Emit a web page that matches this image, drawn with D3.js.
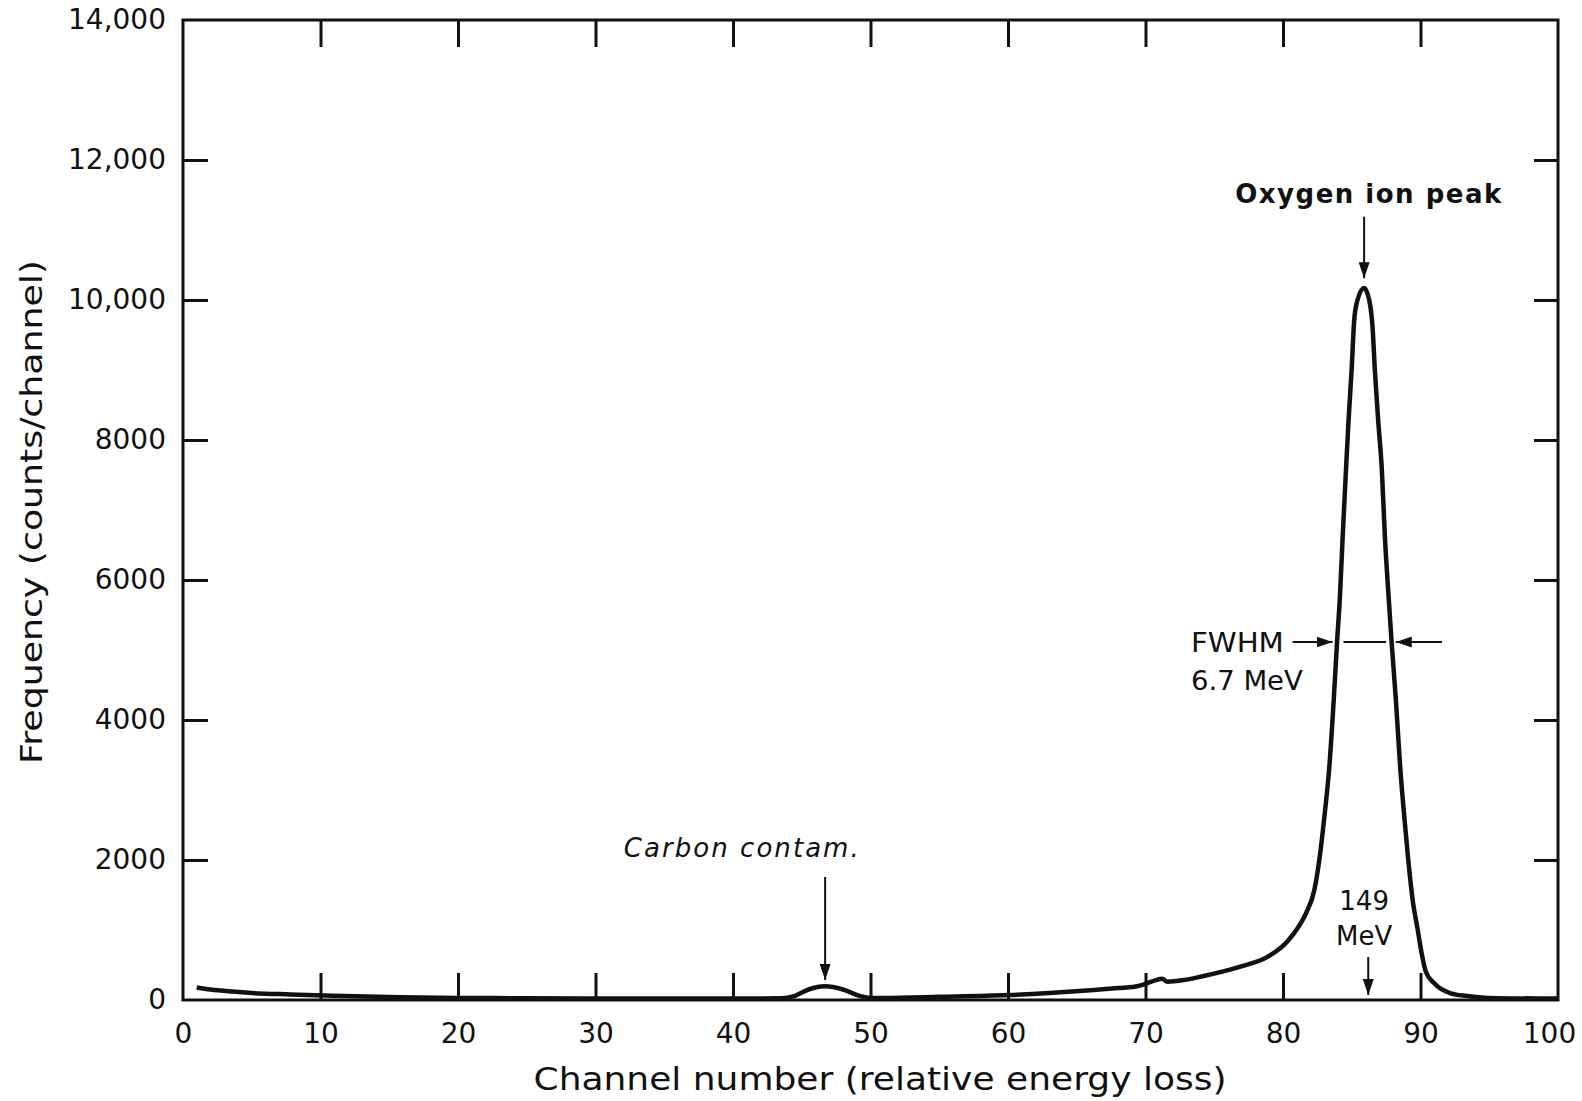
<!DOCTYPE html>
<html>
<head>
<meta charset="utf-8">
<script src="https://cdn.jsdelivr.net/npm/d3@7"></script>
<style>
  body { margin: 0; background: #fff; }
  svg { display: block; font-family: 'DejaVu Sans', sans-serif; }
</style>
</head>
<body>
<svg id="chart" width="1582" height="1101"></svg>
<script>
// spectrum
const channels = [1, 2, 3.6, 5, 7.8, 10.9, 15.8, 20, 25, 30, 35, 40, 43.5, 44.5, 45.5, 46.7, 48, 49.2, 50, 51,
  55, 60, 63, 66, 68, 69.2, 70.1, 70.7, 71.2, 71.6, 72.8, 74, 76.9, 78.9, 80.3, 81.06, 81.67, 82.28, 82.64,
  83.01, 83.37, 83.69, 83.93, 84.14, 84.34, 84.58, 84.77, 84.99, 85.18, 85.42, 85.9, 86.27, 86.51, 86.68,
  86.92, 87.19, 87.41, 87.68, 87.9, 88.21, 88.52, 88.82, 89.11, 89.43, 89.8, 90.1, 90.39, 91.0, 92.2,
  93.4, 95, 100];
const counts = [180, 150, 120, 100, 80, 62, 40, 30, 25, 20, 20, 20, 25, 60, 150, 195, 150, 60, 30, 30,
  45, 70, 100, 140, 170, 190, 238, 280, 305, 262, 286, 333, 476, 619, 833, 1024, 1238, 1571, 2000,
  2619, 3333, 4286, 5110, 5762, 6619, 7571, 8286, 9000, 9714, 10000, 10170, 10000, 9619, 9000,
  8286, 7571, 6619, 5762, 5110, 4286, 3333, 2619, 2000, 1429, 1000, 650, 404, 238, 95,
  57, 30, 20];

const xTickValues = [0, 10, 20, 30, 40, 50, 60, 70, 80, 90, 100];
const yTickValues = [0, 2000, 4000, 6000, 8000, 10000, 12000, 14000];
const yTickLabels = ['0', '2000', '4000', '6000', '8000', '10,000', '12,000', '14,000'];

const svg = d3.select('#chart');
const x = d3.scaleLinear([0, 100], [183, 1558]);
const y = d3.scaleLinear([0, 14000], [1000, 20]);

const defs = svg.append('defs');
defs.append('marker')
  .attr('id', 'head')
  .attr('viewBox', '0 -6 16 12')
  .attr('refX', 16)
  .attr('refY', 0)
  .attr('markerUnits', 'userSpaceOnUse')
  .attr('markerWidth', 16)
  .attr('markerHeight', 12)
  .attr('orient', 'auto')
  .append('path')
  .attr('d', 'M0,-5.5 L16,0 L0,5.5 Z')
  .attr('fill', '#111');

// bottom axis: labels everywhere, ticks only inside
const xAxis = svg.append('g')
  .attr('transform', `translate(0,${y(0)})`)
  .call(d3.axisBottom(x).tickValues(xTickValues).tickSizeInner(-27).tickSizeOuter(0).tickPadding(23));
xAxis.selectAll('.tick line').filter(d => d === 0 || d === 100).remove();
xAxis.selectAll('.tick text').filter(d => d === 100).attr('dx', -9);

svg.append('g')
  .attr('transform', `translate(0,${y(14000)})`)
  .call(d3.axisTop(x).tickValues(xTickValues.slice(1, -1)).tickSizeInner(-27).tickSizeOuter(0).tickFormat(''));

const yAxis = svg.append('g')
  .attr('transform', `translate(${x(0)},0)`)
  .call(d3.axisLeft(y).tickValues(yTickValues).tickSizeInner(-25).tickSizeOuter(0).tickPadding(17)
    .tickFormat((d, i) => yTickLabels[i]));
yAxis.selectAll('.tick line').filter(d => d === 0 || d === 14000).remove();

svg.append('g')
  .attr('transform', `translate(${x(100)},0)`)
  .call(d3.axisRight(y).tickValues(yTickValues.slice(1, -1)).tickSizeInner(-24).tickSizeOuter(0).tickFormat(''));

[xAxis, yAxis].forEach(g => g
  .attr('font-family', "'DejaVu Sans', sans-serif")
  .attr('font-size', 28)
  .selectAll('text').attr('fill', '#111'));

svg.selectAll('.domain').remove();
svg.selectAll('.tick line').attr('stroke', '#111').attr('stroke-width', 3);

svg.append('rect')
  .attr('x', x(0)).attr('y', y(14000))
  .attr('width', x(100) - x(0)).attr('height', y(0) - y(14000))
  .attr('fill', 'none').attr('stroke', '#111').attr('stroke-width', 3);

// spectrum curve
const line = d3.line()
  .x((d, i) => x(channels[i]))
  .y(d => y(d))
  .curve(d3.curveMonotoneX);

svg.append('path')
  .datum(counts)
  .attr('d', line)
  .attr('fill', 'none')
  .attr('stroke', '#111')
  .attr('stroke-width', 4.5)
  .attr('stroke-linejoin', 'round');

// axis titles
svg.append('text')
  .attr('x', 880).attr('y', 1090)
  .attr('text-anchor', 'middle')
  .attr('font-size', 32)
  .attr('textLength', 693).attr('lengthAdjust', 'spacingAndGlyphs')
  .attr('fill', '#111')
  .text('Channel number (relative energy loss)');

svg.append('text')
  .attr('transform', 'translate(42,512) rotate(-90)')
  .attr('text-anchor', 'middle')
  .attr('font-size', 31)
  .attr('textLength', 504).attr('lengthAdjust', 'spacingAndGlyphs')
  .attr('fill', '#111')
  .text('Frequency (counts/channel)');

// annotations
function arrow(x1, y1, x2, y2) {
  svg.append('line')
    .attr('x1', x(x1)).attr('y1', y(y1))
    .attr('x2', x(x2)).attr('y2', y(y2))
    .attr('stroke', '#111').attr('stroke-width', 2)
    .attr('marker-end', 'url(#head)');
}

svg.append('text')
  .attr('x', x(86.2)).attr('y', y(11390))
  .attr('text-anchor', 'middle')
  .attr('font-size', 26).attr('font-weight', 'bold')
  .attr('textLength', 266).attr('lengthAdjust', 'spacing')
  .attr('fill', '#111')
  .text('Oxygen ion peak');
arrow(85.9, 11190, 85.9, 10310);

svg.append('text')
  .attr('x', x(40.6)).attr('y', y(2043))
  .attr('text-anchor', 'middle')
  .attr('font-size', 26).attr('font-style', 'italic')
  .attr('textLength', 235).attr('lengthAdjust', 'spacing')
  .attr('fill', '#111')
  .text('Carbon contam.');
arrow(46.7, 1757, 46.7, 286);

svg.append('text')
  .attr('x', x(73.3)).attr('y', y(4971))
  .attr('font-size', 26)
  .attr('textLength', 93).attr('lengthAdjust', 'spacingAndGlyphs')
  .attr('fill', '#111')
  .text('FWHM');
svg.append('text')
  .attr('x', x(73.3)).attr('y', y(4429))
  .attr('font-size', 26)
  .attr('textLength', 112).attr('lengthAdjust', 'spacingAndGlyphs')
  .attr('fill', '#111')
  .text('6.7 MeV');
arrow(80.7, 5114, 83.6, 5114);
arrow(91.56, 5114, 88.2, 5114);
svg.append('line')
  .attr('x1', x(84.4)).attr('y1', y(5114))
  .attr('x2', x(87.5)).attr('y2', y(5114))
  .attr('stroke', '#111').attr('stroke-width', 2);

svg.append('text')
  .attr('x', x(85.9)).attr('y', y(1286))
  .attr('text-anchor', 'middle')
  .attr('font-size', 26)
  .attr('fill', '#111')
  .text('149');
svg.append('text')
  .attr('x', x(85.9)).attr('y', y(786))
  .attr('text-anchor', 'middle')
  .attr('font-size', 26)
  .attr('fill', '#111')
  .text('MeV');
arrow(86.2, 614, 86.2, 71);
</script>
</body>
</html>
